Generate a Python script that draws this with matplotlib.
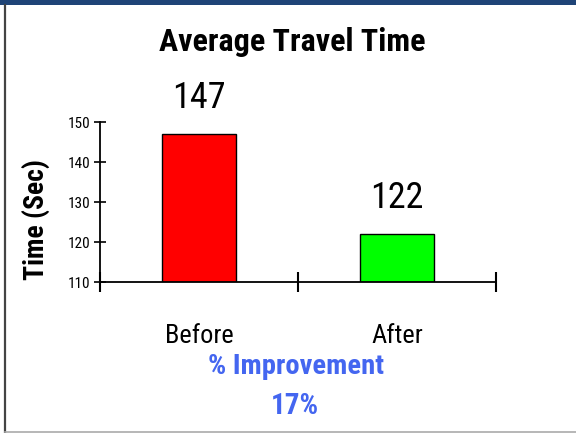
import matplotlib
matplotlib.use('Agg')
import matplotlib.pyplot as plt
from matplotlib import font_manager as fm
from matplotlib.patches import Rectangle
from matplotlib.lines import Line2D

# data
categories = ['Before', 'After']
travel_time = [147, 122]
bar_colors = ['#ff0000', '#00ff00']
y_ticks = [110, 120, 130, 140, 150]
improvement = '17%'


def pick_narrow():
    # first narrow face that is really installed, else plain Liberation Sans
    for fam, stretch in [('Liberation Sans Narrow', 'normal'),
                         ('Arial Narrow', 'normal'),
                         ('Roboto Condensed', 'normal'),
                         ('DejaVu Sans', 'condensed'),
                         ('Roboto', 'condensed'),
                         ('Open Sans', 'condensed')]:
        try:
            path = fm.findfont(fm.FontProperties(family=fam, stretch=stretch),
                               fallback_to_default=False)
        except ValueError:
            continue
        name = path.lower()
        if 'narrow' in name or 'condensed' in name:
            return fam, stretch
    return 'Liberation Sans', 'normal'


family, stretch = pick_narrow()
plt.rcParams['font.family'] = [family, 'DejaVu Sans']
plt.rcParams['font.stretch'] = stretch

fig = plt.figure(figsize=(5.76, 4.33), dpi=100)
W, H = 576.0, 433.0

# frame decorations of the slide
fig.patches.append(Rectangle((0, 1 - 5 / H), 1, 5 / H, transform=fig.transFigure,
                             facecolor='#1f4477', edgecolor='none'))
fig.lines.append(Line2D([5 / W, 5 / W], [0, 1 - 5 / H], transform=fig.transFigure,
                        color='#444444', lw=1.6))
fig.lines.append(Line2D([5 / W, 1], [1.5 / H, 1.5 / H], transform=fig.transFigure,
                        color='#aaaaaa', lw=1.2))

ax = fig.add_axes([100 / W, 1 - 282 / H, 396 / W, 160 / H])
pos = [i + 0.5 for i in range(len(categories))]
bars = ax.bar(pos, [v - y_ticks[0] for v in travel_time], bottom=y_ticks[0],
              width=0.37, color=bar_colors, edgecolor='black', linewidth=1.0)

for x, v in zip(pos, travel_time):
    ax.annotate(str(v), (x, v), xytext=(0, 13), textcoords='offset points',
                ha='center', va='bottom', fontsize=26)

ax.set_xlim(0, 2)
ax.set_ylim(110, 150)
ax.set_yticks(y_ticks)
ax.tick_params(axis='y', direction='inout', length=8, width=1.2, labelsize=11, pad=3)
ax.set_xticks([0, 1, 2], minor=True)
ax.tick_params(axis='x', which='minor', direction='inout', length=15, width=1.5)
ax.set_xticks(pos, categories, fontsize=19)
ax.tick_params(axis='x', which='major', length=0, pad=30)
for side in ['top', 'right']:
    ax.spines[side].set_visible(False)
for side in ['left', 'bottom']:
    ax.spines[side].set_linewidth(1.3)

fig.text(292 / W, 1 - 51 / H, 'Average Travel Time', ha='center', va='baseline',
         fontsize=23, fontweight='bold')
fig.text(36 / W, 1 - 219 / H, 'Time (Sec)', ha='center', va='center', rotation=90,
         fontsize=20, fontweight='bold')
fig.text(296 / W, 1 - 374 / H, '% Improvement', ha='center', va='baseline',
         fontsize=20.5, fontweight='bold', color='#4466f0')
fig.text(295 / W, 1 - 414 / H, improvement, ha='center', va='baseline',
         fontsize=21, fontweight='bold', color='#4466f0')

fig.savefig('out.png', dpi=100)
